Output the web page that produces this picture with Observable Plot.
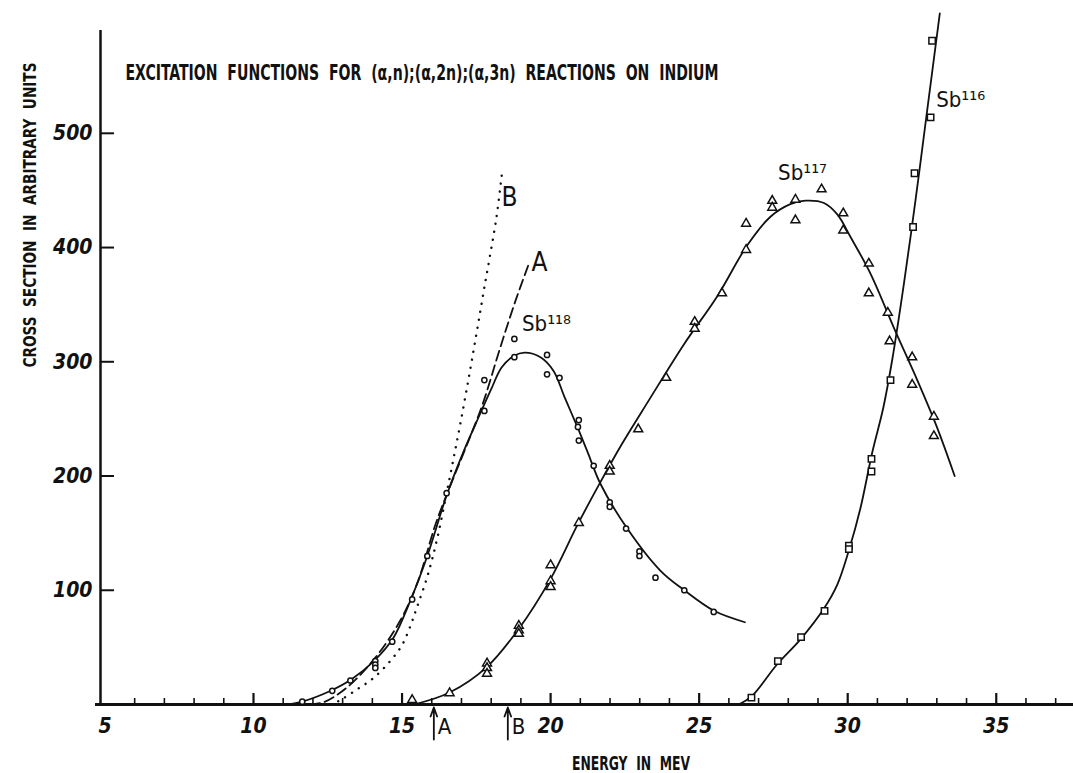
<!DOCTYPE html>
<html><head><meta charset="utf-8">
<script src="https://cdn.jsdelivr.net/npm/d3@7"></script>
<script src="https://cdn.jsdelivr.net/npm/@observablehq/plot@0.6"></script>
<style>body{margin:0;background:#fff}</style>
</head><body><div id="chart"></div>
<script>
// ---- data ----
const titleText = "EXCITATION  FUNCTIONS  FOR  (α,n);(α,2n);(α,3n)  REACTIONS  ON  INDIUM";
const xTitle = "ENERGY  IN  MEV";
const yTitle = "CROSS  SECTION  IN  ARBITRARY  UNITS";
const xMajorTicks = [5, 10, 15, 20, 25, 30, 35];
const xMinorTicks = d3.range(6, 38).filter(d => d % 5 !== 0);
const yTicks = [100, 200, 300, 400, 500];
const markerX = [16.07, 18.56];
const markerLabels = ["A", "B"];

// Sb118 (α,n) — open circles
const sb118Points = [[11.64,2.5],[12.65,12],[13.26,21],[14.1,38],[14.1,35],[14.1,32],[14.67,55],[15.34,92],[15.85,130],[16.5,185],[17.77,257],[17.77,284],[18.78,320],[18.78,304],[19.88,306],[19.88,289],[20.3,286],[20.95,249],[20.92,243],[20.95,231],[21.45,209],[21.99,177],[21.99,173],[22.54,154],[22.99,134],[22.99,130],[23.53,111],[24.5,100],[25.49,81]];
const sb118Curve = [[11.13,0],[11.64,2.5],[12.6,12],[13.3,22],[14.05,38],[14.7,58],[15.28,91],[15.85,130],[16.5,183],[17.08,222],[17.5,247],[18.0,276],[18.35,295],[18.76,305],[19.12,308],[19.66,304],[20.1,292],[20.47,269],[20.9,243],[21.23,222],[21.68,193],[22.58,154],[23.7,117],[24.5,100],[25.5,82],[26.54,72]];
// Sb117 (α,2n) — open triangles
const sb117Points = [[15.34,4],[16.6,10],[17.86,36],[17.86,32],[17.86,27],[18.93,69],[18.93,65],[18.93,62],[20.0,122],[20.0,108],[20.0,103],[20.95,159],[21.99,209],[21.99,204],[22.95,241],[23.89,286],[24.85,335],[24.85,329],[25.77,360],[26.58,421],[26.58,398],[27.46,441],[27.46,435],[28.24,442],[28.24,424],[29.12,451],[29.85,430],[29.85,415],[30.71,386],[30.71,360],[31.35,343],[31.41,318],[32.17,304],[32.17,280],[32.9,252],[32.9,235]];
const sb117Curve = [[15.4,0],[16.6,10.5],[17.86,33],[18.95,67],[20.0,110],[20.9,157],[21.62,192],[22.4,228],[23.3,266],[24.48,315],[25.6,357],[26.62,402],[27.4,427],[28.07,438],[28.58,441],[29.2,439],[29.65,429],[30.1,409],[30.77,377],[31.6,327],[32.34,284],[33.0,243],[33.6,200]];
// Sb116 (α,3n) — open squares
const sb116Points = [[26.76,6],[27.65,38],[28.43,59],[29.22,82],[30.04,139],[30.04,136],[30.8,215],[30.8,204],[31.44,284],[32.2,418],[32.25,465],[32.79,514],[32.84,581]];
const sb116Curve = [[26.33,0],[26.76,7],[27.62,35],[28.41,57],[29.2,84],[29.65,105],[30.04,135],[30.43,172],[30.82,220],[31.2,260],[31.5,302],[31.89,368],[32.28,441],[32.64,513],[33.1,605]];
// theoretical curves A (dashed) and B (dotted)
const curveA = [[11.9,0],[12.36,2],[13.15,15],[14.1,41],[14.95,74],[15.51,106],[16.13,158],[16.6,190],[17.1,222],[17.7,262],[18.3,312],[18.8,352],[19.3,388]];
const curveB = [[12.6,0],[12.9,3.5],[13.47,13],[14.03,23],[14.6,38],[15.0,52],[15.27,68],[15.5,85],[15.85,112],[16.18,145],[16.6,198],[16.97,247],[17.34,300],[17.75,362],[18.18,427],[18.37,467]];
const seriesLabels = [
  {x: 19.86, y: 333, text: "Sb¹¹⁸"},
  {x: 28.48, y: 465, text: "Sb¹¹⁷"},
  {x: 33.8, y: 529, text: "Sb¹¹⁶"}
];
const curveLabels = [
  {x: 18.62, y: 444, text: "B"},
  {x: 19.63, y: 387, text: "A"}
];

// ---- layout ----
const W = 1073, H = 773;
const mL = 100, mR = 0, mT = 30, mB = 69;
const xDomain = [4.85, 37.6], yDomain = [0, 590];
const kx = (W - mL - mR) / (xDomain[1] - xDomain[0]);
const ky = (H - mT - mB) / (yDomain[1] - yDomain[0]);
const px2x = p => p / kx, px2y = p => p / ky;

const ink = "#111";
const lettering = "'DejaVu Sans Condensed', 'DejaVu Sans', sans-serif";

const chart = Plot.plot({
  width: W, height: H,
  marginLeft: mL, marginRight: mR, marginTop: mT, marginBottom: mB,
  x: {domain: xDomain, axis: null},
  y: {domain: yDomain, axis: null},
  style: {background: "#fff", color: ink, fontFamily: lettering},
  marks: [
    // axes
    Plot.ruleY([0], {x1: xDomain[0] - px2x(5), x2: xDomain[1], stroke: ink, strokeWidth: 3}),
    Plot.ruleX([xDomain[0]], {y1: 0, y2: yDomain[1], stroke: ink, strokeWidth: 2.5}),
    Plot.ruleX(xMinorTicks, {x: d => d, y1: 0, y2: px2y(6), stroke: ink, strokeWidth: 1.6}),
    Plot.ruleX(xMajorTicks.slice(1), {x: d => d, y1: 0, y2: px2y(11), stroke: ink, strokeWidth: 2.2}),
    Plot.ruleY(yTicks, {y: d => d, x1: xDomain[0], x2: xDomain[0] + px2x(14), stroke: ink, strokeWidth: 2}),
    Plot.text(yTicks, {x: xDomain[0], y: d => d, text: d => String(d), textAnchor: "end", dx: -8, fontSize: 21, fontStyle: "italic", fontWeight: "bold", fill: ink}),
    Plot.text(xMajorTicks, {x: d => d, y: 0, text: d => String(d), dy: 22, fontSize: 21, fontStyle: "italic", fontWeight: "bold", fill: ink}),
    // energy markers A and B
    Plot.arrow(markerX, {x1: d => d, x2: d => d, y1: -px2y(35), y2: -px2y(3), headLength: 8, headAngle: 40, stroke: ink, strokeWidth: 1.8}),
    Plot.text(markerX, {x: d => d, y: 0, text: (d, i) => markerLabels[i], textAnchor: "start", dx: 4, dy: 22, fontSize: 22, fill: ink}),
    // curves
    Plot.line(curveB, {x: d => d[0], y: d => d[1], curve: "catmull-rom", stroke: ink, strokeWidth: 2.4, strokeDasharray: "0.1 8", strokeLinecap: "round"}),
    Plot.line(curveA, {x: d => d[0], y: d => d[1], curve: "catmull-rom", stroke: ink, strokeWidth: 1.8, strokeDasharray: "10 5"}),
    Plot.line(sb118Curve, {x: d => d[0], y: d => d[1], curve: "catmull-rom", stroke: ink, strokeWidth: 1.8}),
    Plot.line(sb117Curve, {x: d => d[0], y: d => d[1], curve: "catmull-rom", stroke: ink, strokeWidth: 1.8}),
    Plot.line(sb116Curve, {x: d => d[0], y: d => d[1], curve: "catmull-rom", stroke: ink, strokeWidth: 1.8}),
    // data points
    Plot.dot(sb118Points, {x: d => d[0], y: d => d[1], symbol: "circle", r: 2.6, fill: "#fff", stroke: ink, strokeWidth: 1.5}),
    Plot.dot(sb117Points, {x: d => d[0], y: d => d[1], symbol: "triangle", r: 3.3, fill: "#fff", stroke: ink, strokeWidth: 1.5}),
    Plot.dot(sb116Points, {x: d => d[0], y: d => d[1], symbol: "square", r: 3.6, fill: "#fff", stroke: ink, strokeWidth: 1.5}),
    // labels
    Plot.text(seriesLabels, {x: "x", y: "y", text: "text", fontSize: 22, fill: ink}),
    Plot.text(curveLabels, {x: "x", y: "y", text: "text", fontSize: 26, fill: ink}),
    // titles
    Plot.text([titleText], {frameAnchor: "top-left", lineAnchor: "middle", dx: 25, dy: 42, textAnchor: "start", fontSize: 22, fontWeight: "bold", fill: ink}),
    Plot.text([yTitle], {frameAnchor: "left", lineAnchor: "middle", dx: -70, rotate: -90, fontSize: 17, fontWeight: "bold", fill: ink}),
    Plot.text([xTitle], {frameAnchor: "bottom", lineAnchor: "middle", dx: 44, dy: 59, fontSize: 19, fontWeight: "bold", fill: ink})
  ]
});
document.getElementById("chart").appendChild(chart);

// fit the hand-lettered titles to their measured widths
const fitWidths = new Map([[titleText, 593], [yTitle, 305], [xTitle, 118]]);
d3.select(chart).selectAll("text").each(function() {
  const w = fitWidths.get(this.textContent);
  if (w) d3.select(this).attr("textLength", w).attr("lengthAdjust", "spacingAndGlyphs");
});
</script>
</body></html>
